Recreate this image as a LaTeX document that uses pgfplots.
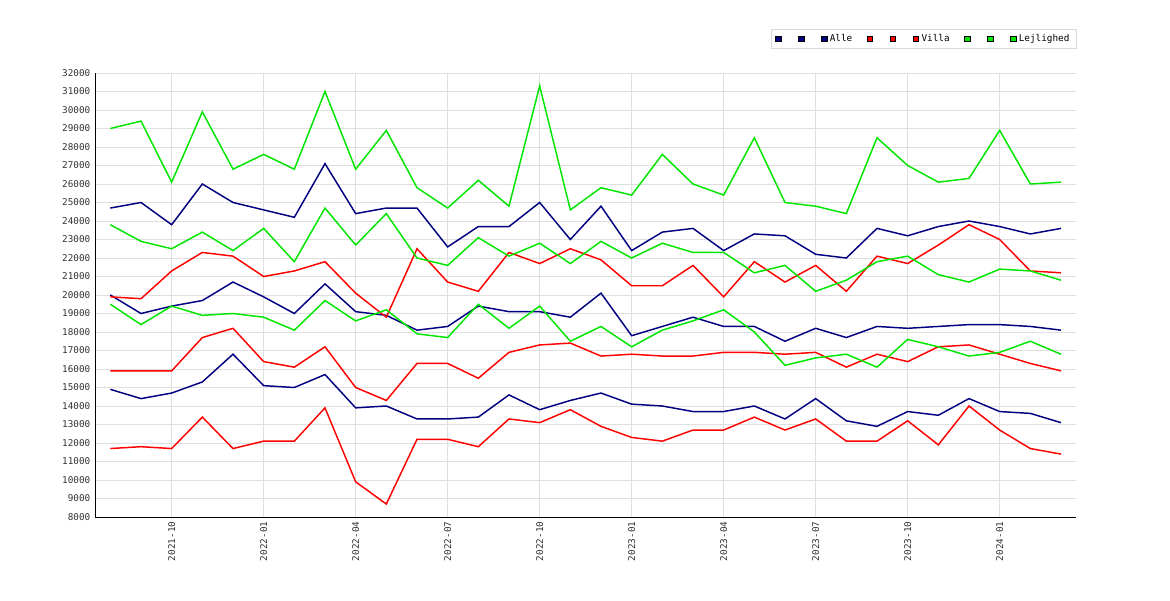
\documentclass[border=0pt]{standalone}
\usepackage{pgfplots}
\pgfplotsset{compat=1.18}
\usepackage{fontspec}
\setmainfont{DejaVu Sans Mono}
\definecolor{navy}{RGB}{0,0,128}
\definecolor{gr}{RGB}{0,230,0}
\begin{document}
\begin{tikzpicture}
\begin{axis}[
 scale only axis, width=736pt, height=333pt,
 xmin=-0.5, xmax=31.5, ymin=8000, ymax=32000,
 ytick distance=1000,
 xtick={2,5,8,11,14,17,20,23,26,29},
 xticklabels={2021-10,2022-01,2022-04,2022-07,2022-10,2023-01,2023-04,2023-07,2023-10,2024-01},
 xticklabel style={rotate=90,anchor=east},
 grid=major, major grid style={gray!25},
 tick style={draw=none},
 axis line style={black},
 axis x line*=bottom, axis y line*=left,
 ticklabel style={font=\fontsize{7}{8}\selectfont, text=black!80},
 /pgf/number format/assume math mode=true,
 /pgf/number format/1000 sep={},
 scaled y ticks=false,
 every axis plot/.append style={line width=1.1pt, mark=none},
 legend columns=-1,
 legend style={at={(1,1)},anchor=south east,yshift=18pt,draw=gray!30,font=\fontsize{7}{8}\selectfont,
   /tikz/every even column/.append style={column sep=9pt}},
 legend image code/.code={\draw[fill,draw=black,line width=0.3pt] (0cm,-2pt) rectangle (4pt,2pt);},
]
\addplot[navy] coordinates {(0,24700)(1,25000)(2,23800)(3,26000)(4,25000)(5,24600)(6,24200)(7,27100)(8,24400)(9,24700)(10,24700)(11,22600)(12,23700)(13,23700)(14,25000)(15,23000)(16,24800)(17,22400)(18,23400)(19,23600)(20,22400)(21,23300)(22,23200)(23,22200)(24,22000)(25,23600)(26,23200)(27,23700)(28,24000)(29,23700)(30,23300)(31,23600)};
\addplot[navy] coordinates {(0,20000)(1,19000)(2,19400)(3,19700)(4,20700)(5,19900)(6,19000)(7,20600)(8,19100)(9,18900)(10,18100)(11,18300)(12,19400)(13,19100)(14,19100)(15,18800)(16,20100)(17,17800)(18,18300)(19,18800)(20,18300)(21,18300)(22,17500)(23,18200)(24,17700)(25,18300)(26,18200)(27,18300)(28,18400)(29,18400)(30,18300)(31,18100)};
\addplot[navy] coordinates {(0,14900)(1,14400)(2,14700)(3,15300)(4,16800)(5,15100)(6,15000)(7,15700)(8,13900)(9,14000)(10,13300)(11,13300)(12,13400)(13,14600)(14,13800)(15,14300)(16,14700)(17,14100)(18,14000)(19,13700)(20,13700)(21,14000)(22,13300)(23,14400)(24,13200)(25,12900)(26,13700)(27,13500)(28,14400)(29,13700)(30,13600)(31,13100)};
\addplot[red] coordinates {(0,19900)(1,19800)(2,21300)(3,22300)(4,22100)(5,21000)(6,21300)(7,21800)(8,20100)(9,18800)(10,22500)(11,20700)(12,20200)(13,22300)(14,21700)(15,22500)(16,21900)(17,20500)(18,20500)(19,21600)(20,19900)(21,21800)(22,20700)(23,21600)(24,20200)(25,22100)(26,21700)(27,22700)(28,23800)(29,23000)(30,21300)(31,21200)};
\addplot[red] coordinates {(0,15900)(1,15900)(2,15900)(3,17700)(4,18200)(5,16400)(6,16100)(7,17200)(8,15000)(9,14300)(10,16300)(11,16300)(12,15500)(13,16900)(14,17300)(15,17400)(16,16700)(17,16800)(18,16700)(19,16700)(20,16900)(21,16900)(22,16800)(23,16900)(24,16100)(25,16800)(26,16400)(27,17200)(28,17300)(29,16800)(30,16300)(31,15900)};
\addplot[red] coordinates {(0,11700)(1,11800)(2,11700)(3,13400)(4,11700)(5,12100)(6,12100)(7,13900)(8,9900)(9,8700)(10,12200)(11,12200)(12,11800)(13,13300)(14,13100)(15,13800)(16,12900)(17,12300)(18,12100)(19,12700)(20,12700)(21,13400)(22,12700)(23,13300)(24,12100)(25,12100)(26,13200)(27,11900)(28,14000)(29,12700)(30,11700)(31,11400)};
\addplot[gr] coordinates {(0,29000)(1,29400)(2,26100)(3,29900)(4,26800)(5,27600)(6,26800)(7,31000)(8,26800)(9,28900)(10,25800)(11,24700)(12,26200)(13,24800)(14,31300)(15,24600)(16,25800)(17,25400)(18,27600)(19,26000)(20,25400)(21,28500)(22,25000)(23,24800)(24,24400)(25,28500)(26,27000)(27,26100)(28,26300)(29,28900)(30,26000)(31,26100)};
\addplot[gr] coordinates {(0,23800)(1,22900)(2,22500)(3,23400)(4,22400)(5,23600)(6,21800)(7,24700)(8,22700)(9,24400)(10,22000)(11,21600)(12,23100)(13,22100)(14,22800)(15,21700)(16,22900)(17,22000)(18,22800)(19,22300)(20,22300)(21,21200)(22,21600)(23,20200)(24,20800)(25,21800)(26,22100)(27,21100)(28,20700)(29,21400)(30,21300)(31,20800)};
\addplot[gr] coordinates {(0,19500)(1,18400)(2,19400)(3,18900)(4,19000)(5,18800)(6,18100)(7,19700)(8,18600)(9,19200)(10,17900)(11,17700)(12,19500)(13,18200)(14,19400)(15,17500)(16,18300)(17,17200)(18,18100)(19,18600)(20,19200)(21,18000)(22,16200)(23,16600)(24,16800)(25,16100)(26,17600)(27,17200)(28,16700)(29,16900)(30,17500)(31,16800)};
\legend{\mbox{},\mbox{},Alle,\mbox{},\mbox{},Villa,\mbox{},\mbox{},Lejlighed}
\end{axis}
\useasboundingbox (-71.25pt,-62.25pt) rectangle (806.25pt,387.75pt);
\end{tikzpicture}
\end{document}
